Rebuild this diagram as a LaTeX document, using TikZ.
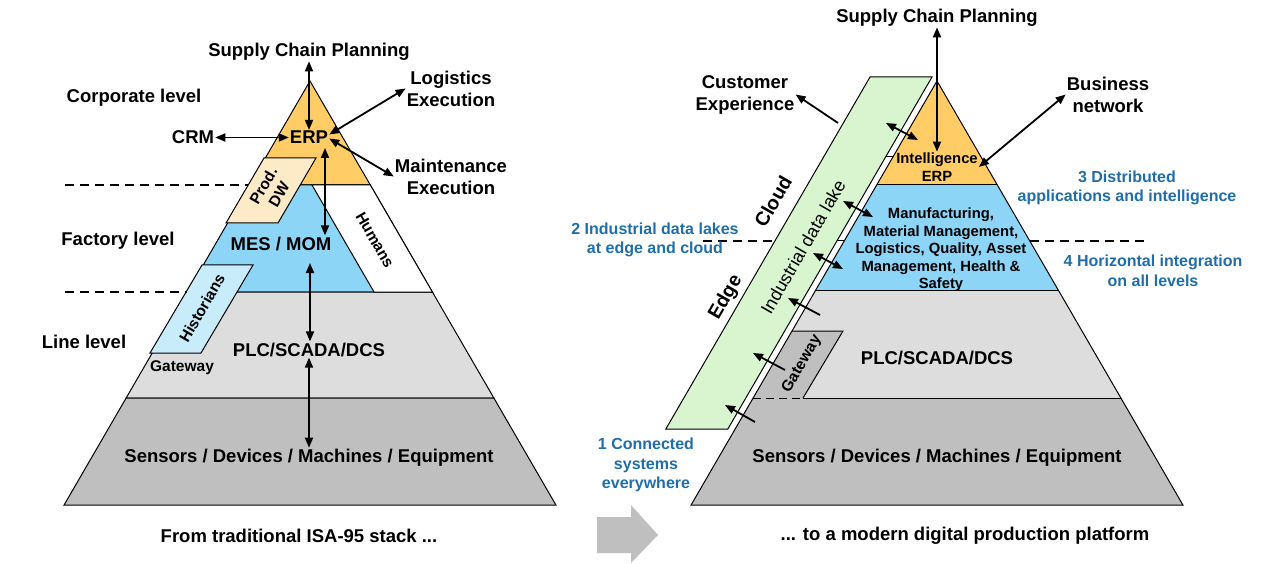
\documentclass[tikz,border=0pt]{standalone}
\usepackage{fontspec}
\setmainfont{Liberation Sans}
\usetikzlibrary{arrows.meta}
\definecolor{erpOrange}{HTML}{FFCC66}
\definecolor{mesBlue}{HTML}{8DD5F7}
\definecolor{plcGray}{HTML}{DDDDDD}
\definecolor{devGray}{HTML}{BFBFBF}
\definecolor{dwBeige}{HTML}{FDEBC8}
\definecolor{histBlue}{HTML}{C9ECFB}
\definecolor{lakeGreen}{HTML}{D9F5CF}
\definecolor{noteBlue}{HTML}{1F6EAA}

\begin{document}
\begin{tikzpicture}[x=1pt, y=-1pt,
  lbl/.style={font=\fontsize{18.5}{22}\selectfont\bfseries, align=center, inner sep=1pt, yshift=-1.5pt},
  small/.style={font=\fontsize{15.5}{18}\selectfont\bfseries, align=center, inner sep=1pt},
  tiny/.style={font=\fontsize{14.8}{17.5}\selectfont\bfseries, align=center, inner sep=1pt},
  note/.style={font=\fontsize{16}{19.5}\selectfont\bfseries, text=noteBlue, align=center, inner sep=1pt, yshift=-1pt},
  layer/.style={draw=black, line width=1pt},
  lvl/.style={line width=1.5pt, dash pattern=on 9pt off 6pt},
  dbl/.style={{Triangle[length=10pt,width=8pt]}-{Triangle[length=10pt,width=8pt]}, line width=1.8pt},
  sgl/.style={-{Triangle[length=10pt,width=8pt]}, line width=1.8pt}]
\useasboundingbox (0,0) rectangle (1280,564);
\def\sl{0.58}

% traditional stack
\def\ax{310}
\foreach \ya/\yb/\col in {81/185/erpOrange, 185/292/mesBlue, 292/398/plcGray, 398/505/devGray}
  \filldraw[layer, fill=\col] ({\ax-\sl*(\ya-81)},\ya) -- ({\ax+\sl*(\ya-81)},\ya)
    -- ({\ax+\sl*(\yb-81)},\yb) -- ({\ax-\sl*(\yb-81)},\yb) -- cycle;
\filldraw[layer, fill=white] (312,185) -- ({\ax+\sl*104},185) -- ({\ax+\sl*211},292) -- (374,292) -- cycle;
\filldraw[layer, fill=dwBeige] (264,158) -- (316,158) -- (278,223) -- (226,223) -- cycle;
\filldraw[layer, fill=histBlue] (202,265) -- (253,265) -- (201,353) -- (150,353) -- cycle;
\draw[lvl] (65,185) -- (248,185);
\draw[lvl] (65,292) -- (187,292);

\node[lbl] (scpL) at (309,50) {Supply Chain Planning};
\node[lbl] (corpL) at (134,96) {Corporate level};
\node[lbl] (logL) at (451,87) {Logistics\\Execution};
\node[lbl] (crmL) at (193,136) {CRM};
\node[lbl] (erpL) at (309,136) {ERP};
\node[lbl] (maintL) at (451,175) {Maintenance\\Execution};
\node[lbl] (factL) at (118,239) {Factory level};
\node[lbl] (mesL) at (281,242) {MES / MOM};
\node[lbl] (lineL) at (84,340) {Line level};
\node[lbl] (plcL) at (309,348) {PLC/SCADA/DCS};
\node[small] (gwL) at (182,368) {Gateway};
\node[lbl] (sensL) at (309,456) {Sensors / Devices / Machines / Equipment};
\node[lbl] (capL) at (299,534) {From traditional ISA-95 stack ...};
\node[small, rotate=60] (dwL) at (271,190) {Prod.\\DW};
\node[small, rotate=-60] (humL) at (375,240) {Humans};
\node[small, rotate=60] (histL) at (202,308) {Historians};

\coordinate (erpS) at (325,148);
\coordinate (mesS) at (310,263);
\draw[dbl] (scpL.south) -- (erpL.north);
\draw[dbl] (crmL.east) -- (erpL.west);
\draw[dbl] ([yshift=3pt]erpL.east) -- (logL.west);
\draw[dbl] ([yshift=-1pt]erpL.east) -- (maintL.west);
\draw[dbl] (erpS) -- (erpS |- mesL.north);
\draw[dbl] (mesS) -- (mesS |- plcL.north);
\draw[dbl] (plcL.south) -- (sensL.north);

% shift arrow
\fill[devGray] (597,517) -- (631,517) -- (631,505) -- (658,535) -- (631,563) -- (631,553) -- (597,553) -- cycle;

% digital platform
\def\bx{937}
\draw[lvl] (703,241) -- (776,241);
\draw[lvl] ({\bx+\sl*160},241) -- (1147,241);
\filldraw[layer, fill=lakeGreen] (870,77) -- (932,77) -- ({932-\sl*352},429) -- ({870-\sl*352},429) -- cycle;
\draw[layer] ({932-\sl*164},241) -- ({\bx-\sl*160},241);
\draw[layer] ({932-\sl*80},157) -- ({\bx-\sl*76},157);
\foreach \ya/\yb/\col in {81/185/erpOrange, 185/290/mesBlue, 290/398/plcGray, 398/505/devGray}
  \fill[\col] ({\bx-\sl*(\ya-81)},\ya) -- ({\bx+\sl*(\ya-81)},\ya)
    -- ({\bx+\sl*(\yb-81)},\yb) -- ({\bx-\sl*(\yb-81)},\yb) -- cycle;
\fill[devGray] ({\bx-\sl*250},331) -- (843,331) -- (803,398) -- ({\bx-\sl*317},398) -- cycle;
\draw[layer] (\bx,81) -- ({\bx+\sl*424},505) -- ({\bx-\sl*424},505) -- cycle;
\draw[layer] ({\bx-\sl*104},185) -- ({\bx+\sl*104},185);
\draw[layer] ({\bx-\sl*209},290) -- ({\bx+\sl*209},290);
\draw[layer] (803,398) -- ({\bx+\sl*317},398);
\draw[layer, dash pattern=on 8pt off 5pt] ({\bx-\sl*317},398) -- (803,398);
\draw[layer] ({\bx-\sl*250},331) -- (843,331) -- (803,398);

\node[lbl] (scpR) at (937,16) {Supply Chain Planning};
\node[lbl] (custR) at (745,93) {Customer\\Experience};
\node[lbl] (bizR) at (1108,93) {Business\\network};
\node[tiny] (intR) at (937,167) {Intelligence\\ERP};
\node[tiny] (mfgR) at (941,250) {Manufacturing,\\Material Management,\\Logistics, Quality, Asset\\Management, Health \&\\Safety};
\node[lbl] (plcR) at (937,356) {PLC/SCADA/DCS};
\node[lbl] (sensR) at (937,456) {Sensors / Devices / Machines / Equipment};
\node[lbl] (capR) at (965,534) {... to a modern digital production platform};
\node[small, rotate=60] (gwR) at (802,364) {Gateway};
\node[font=\fontsize{18}{20}\selectfont, rotate=60, inner sep=1pt] (lakeR) at (803,247) {Industrial data lake};
\node[lbl, font=\fontsize{19.5}{22}\selectfont\bfseries, rotate=60] (cloudR) at (773,200) {Cloud};
\node[lbl, font=\fontsize{19.5}{22}\selectfont\bfseries, rotate=60] (edgeR) at (726,296) {Edge};
\node[note] (n3) at (1127,187) {3 Distributed\\applications and intelligence};
\node[note] (n2) at (655,239) {2 Industrial data lakes\\at edge and cloud};
\node[note] (n4) at (1153,270) {4 Horizontal integration\\on all levels};
\node[note] (n1) at (646,464) {1 Connected\\systems\\everywhere};

\coordinate (custT) at (838,123);
\coordinate (lkA) at (886,123);  \coordinate (pyA) at (918,140);
\coordinate (lkB) at (843,201);  \coordinate (pyB) at (873,217);
\coordinate (lkC) at (813,253);  \coordinate (pyC) at (843,269);
\coordinate (lkD) at (788,298);  \coordinate (gwD) at (820,315);
\coordinate (lkE) at (753,353);  \coordinate (gwE) at (785,370);
\coordinate (lkF) at (725,405);  \coordinate (gwF) at (755,422);
\draw[dbl] (scpR.south) -- (intR.north);
\draw[dbl] (intR.east) -- (bizR.west);
\draw[sgl] (custT) -- (custR.east);
\draw[dbl] (lkA) -- (pyA);
\draw[dbl] (lkB) -- (pyB);
\draw[dbl] (lkC) -- (pyC);
\draw[sgl] (gwD) -- (lkD);
\draw[sgl] (gwE) -- (lkE);
\draw[sgl] (gwF) -- (lkF);
\end{tikzpicture}
\end{document}
